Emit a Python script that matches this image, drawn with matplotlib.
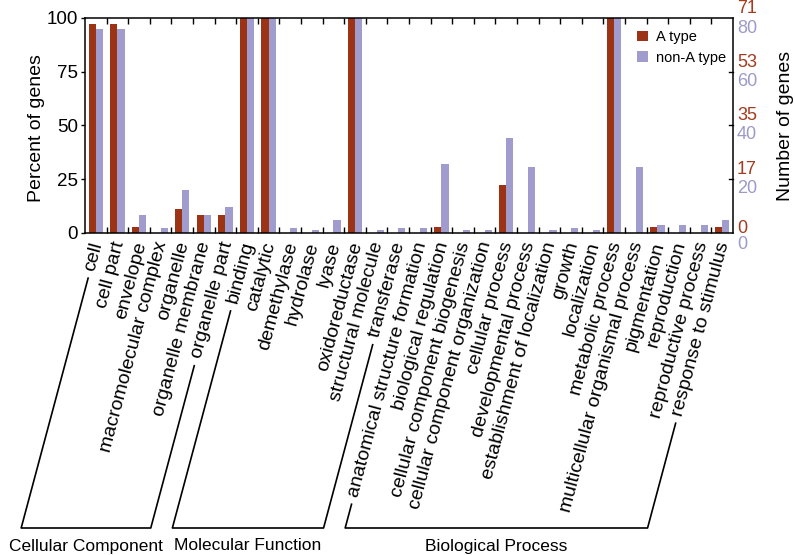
import numpy as np
import matplotlib
matplotlib.use("Agg")
import matplotlib.pyplot as plt
from matplotlib.transforms import ScaledTranslation
from matplotlib.font_manager import FontProperties
from matplotlib.patches import Patch
from matplotlib.lines import Line2D

plt.rcParams['font.family'] = ['Liberation Sans', 'DejaVu Sans']

categories = [
    "cell", "cell part", "envelope", "macromolecular complex", "organelle",
    "organelle membrane", "organelle part",
    "binding", "catalytic", "demethylase", "hydrolase", "lyase",
    "oxidoreductase", "structural molecule", "transferase",
    "anatomical structure formation", "biological regulation",
    "cellular component biogenesis", "cellular component organization",
    "cellular process", "developmental process",
    "establishment of localization", "growth", "localization",
    "metabolic process", "multicellular organismal process", "pigmentation",
    "reproduction", "reproductive process", "response to stimulus",
]
a_type = [97.2, 97.2, 2.8, 0, 11.3, 8.5, 8.5,
          100, 100, 0, 0, 0, 100, 0, 0,
          0, 2.8, 0, 0, 22.5, 0, 0, 0, 0, 100, 0, 2.8, 0, 0, 2.8]
non_a_type = [95.1, 95.1, 8.6, 2.5, 19.8, 8.6, 12.3,
              100, 100, 2.5, 1.2, 6.2, 100, 1.2, 2.5,
              2.5, 32.1, 1.2, 1.2, 44.4, 30.9, 1.2, 2.5, 1.2, 100, 30.9, 3.7,
              3.7, 3.7, 6.2]
groups = ["Cellular Component", "Molecular Function", "Biological Process"]
group_sizes = [7, 8, 15]
left_ticks = [0, 25, 50, 75, 100]
right_a_labels = ["0", "17", "35", "53", "71"]
right_non_a_labels = ["0", "20", "40", "60", "80"]

RED = '#9B3314'
BLUE = '#A09CCE'
RED_TXT = '#A33B1E'
BLUE_TXT = '#9D9ACA'

W, H = 795, 555
fig = plt.figure(figsize=(W / 100, H / 100), dpi=100)
ax_l, ax_r, ax_b, ax_t = 85, 733, 233, 18
ax = fig.add_axes([ax_l / W, 1 - ax_b / H, (ax_r - ax_l) / W, (ax_b - ax_t) / H])

n = len(categories)
x = np.arange(n)
bw = 0.33
ax.bar(x - bw / 2, a_type, width=bw, color=RED, label="A type", linewidth=0)
ax.bar(x + bw / 2, non_a_type, width=bw, color=BLUE, label="non-A type", linewidth=0)
ax.set_xlim(-0.5, n - 0.5)
ax.set_ylim(0, 100)

for s in ax.spines.values():
    s.set_linewidth(1.1)

ax.set_xticks(x[:-1] + 0.5)
ax.set_xticklabels([])
ax.tick_params(axis='x', which='major', direction='in', length=4, width=1,
               top=True, bottom=True)
ax.set_yticks(left_ticks)
ax.set_yticklabels([str(v) for v in left_ticks], fontsize=13.5)
ax.tick_params(axis='y', which='major', direction='out', length=3, width=1, pad=2)
# inward right ticks
for v in left_ticks[1:-1]:
    ax.plot([1, 1 - 4 / (ax_r - ax_l)], [v, v], transform=ax.get_yaxis_transform(),
            color='black', lw=1, clip_on=False)

# right axis labels (two colours)
ytr = ax.get_yaxis_transform()
red_off = [-4, -9.5, -9.5, -9.5, -9.5]
blue_off = [11.5, 9.5, 9.5, 9.5, 10.5]
for v, ra, rb, o1, o2 in zip(left_ticks, right_a_labels, right_non_a_labels, red_off, blue_off):
    ax.text(1, v, ra, transform=ytr + ScaledTranslation(4 / 100, -o1 / 100, fig.dpi_scale_trans),
            ha='left', va='center', fontsize=13, color=RED_TXT, clip_on=False)
    ax.text(1, v, rb, transform=ytr + ScaledTranslation(4 / 100, -o2 / 100, fig.dpi_scale_trans),
            ha='left', va='center', fontsize=13, color=BLUE_TXT, clip_on=False)

fig.text(37 / W, 1 - 128.5 / H, "Percent of genes", rotation=90, ha='center', va='center', fontsize=14)
fig.text(785 / W, 1 - 126 / H, "Number of genes", rotation=90, ha='center', va='center', fontsize=14)

# legend
handles = [Patch(facecolor=RED, edgecolor='none'), Patch(facecolor=BLUE, edgecolor='none')]
ax.legend(handles, ["A type", "non-A type"], loc='upper left',
          bbox_to_anchor=(637 / W, 1 - 30 / H), bbox_transform=fig.transFigure,
          frameon=False, fontsize=10.5, handlelength=0.75, handleheight=0.7,
          handletextpad=0.55, labelspacing=0.45, borderpad=0, borderaxespad=0)

# category labels
ang = 75.0
fs = 14
xtr = ax.get_xaxis_transform()
lab_off = ScaledTranslation(2 / 100, -9 / 100, fig.dpi_scale_trans)
for i, c in enumerate(categories):
    ax.text(i, 0, c, transform=xtr + lab_off, rotation=ang, rotation_mode='anchor',
            ha='right', va='center', fontsize=fs, clip_on=False)

# brackets and leader lines
fig.canvas.draw()
renderer = fig.canvas.get_renderer()
prop = FontProperties(family=['Liberation Sans', 'DejaVu Sans'], size=fs)
ux, uy = np.cos(np.radians(ang)), np.sin(np.radians(ang))
ybr = H - 528  # display y (up)
gap = 8
inv = fig.transFigure.inverted()


def leader(i):
    xd, yd = ax.transData.transform((i, 0))
    axb = ax.transAxes.transform((0, 0))[1]
    A = np.array([xd + 2, axb - 9])
    L, _, _ = renderer.get_text_width_height_descent(categories[i], prop, ismath=False)
    P = A - (L + gap) * np.array([ux, uy])
    t = (P[1] - ybr) / uy
    B = P - t * np.array([ux, uy])
    return P, B


start = 0
for g, sz in zip(groups, group_sizes):
    P1, B1 = leader(start)
    P2, B2 = leader(start + sz - 1)
    pts = np.array([P1, B1, B2, P2])
    fp = inv.transform(pts)
    fig.add_artist(Line2D(fp[:, 0], fp[:, 1], transform=fig.transFigure, color='black', lw=1.2))
    cx = (B1[0] + B2[0]) / 2
    tw, _, _ = renderer.get_text_width_height_descent(g, FontProperties(family=['Liberation Sans'], size=12.5), ismath=False)
    cx = max(cx, tw / 2 + 3)
    fig.text(cx / W, 4.5 / H, g, ha='center', va='baseline', fontsize=12.5)
    start += sz

fig.savefig("out.png", dpi=100)
